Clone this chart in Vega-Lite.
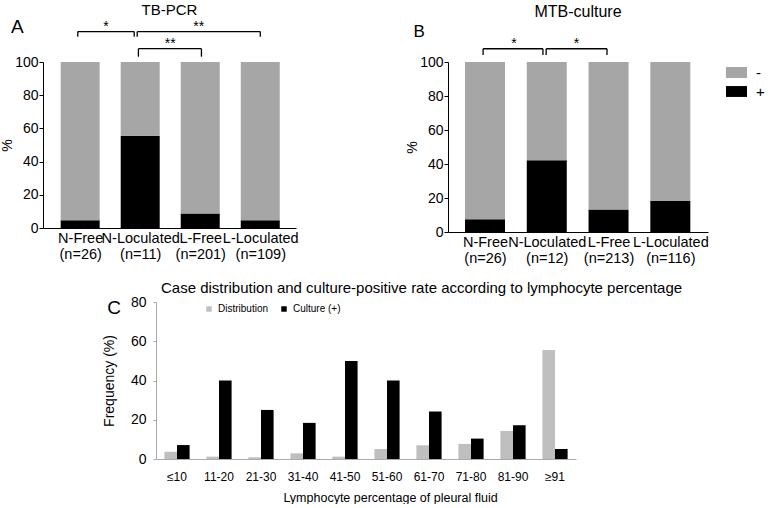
{
  "$schema": "https://vega.github.io/schema/vega-lite/v6.json",
  "background": "white",
  "padding": {"left": 0, "top": 2, "right": 0, "bottom": 0},
  "config": {
    "view": {"stroke": null},
    "font": "Liberation Sans",
    "axis": {"labelColor": "black", "titleColor": "black", "grid": false, "labelFont": "Liberation Sans", "titleFont": "Liberation Sans", "titleFontWeight": "normal", "labelOverlap": false},
    "title": {"color": "black", "font": "Liberation Sans", "fontWeight": "normal"},
    "legend": {"labelFont": "Liberation Sans", "labelColor": "black"},
    "text": {"font": "Liberation Sans", "color": "black"}
  },
  "datasets": {
    "pcr": [
      {"grp": "N-Free", "idx": 1, "res": "+", "pct": 4.6},
      {"grp": "N-Free", "idx": 1, "res": "-", "pct": 95.4},
      {"grp": "N-Loculated", "idx": 2, "res": "+", "pct": 55.5},
      {"grp": "N-Loculated", "idx": 2, "res": "-", "pct": 44.5},
      {"grp": "L-Free", "idx": 3, "res": "+", "pct": 8.7},
      {"grp": "L-Free", "idx": 3, "res": "-", "pct": 91.3},
      {"grp": "L-Loculated", "idx": 4, "res": "+", "pct": 4.6},
      {"grp": "L-Loculated", "idx": 4, "res": "-", "pct": 95.4}
    ],
    "culture": [
      {"grp": "N-Free", "idx": 1, "res": "+", "pct": 7.5},
      {"grp": "N-Free", "idx": 1, "res": "-", "pct": 92.5},
      {"grp": "N-Loculated", "idx": 2, "res": "+", "pct": 42.2},
      {"grp": "N-Loculated", "idx": 2, "res": "-", "pct": 57.8},
      {"grp": "L-Free", "idx": 3, "res": "+", "pct": 13.3},
      {"grp": "L-Free", "idx": 3, "res": "-", "pct": 86.7},
      {"grp": "L-Loculated", "idx": 4, "res": "+", "pct": 18.3},
      {"grp": "L-Loculated", "idx": 4, "res": "-", "pct": 81.7}
    ],
    "brA": [
      {"from": 0.96, "to": 1.9, "top": 118.3, "leg": 115.2, "mid": 1.43, "star": "*"},
      {"from": 1.95, "to": 4.0, "top": 118.3, "leg": 115.2, "mid": 2.975, "star": "**"},
      {"from": 1.97, "to": 3.02, "top": 108, "leg": 103.2, "mid": 2.5, "star": "**"}
    ],
    "brB": [
      {"from": 0.969, "to": 1.938, "top": 107.8, "leg": 104.1, "mid": 1.47, "star": "*"},
      {"from": 1.99, "to": 2.975, "top": 107.8, "leg": 104.1, "mid": 2.48, "star": "*"}
    ],
    "lymph": [
      {"grp": "≤10", "series": "Distribution", "val": 3.7},
      {"grp": "≤10", "series": "Culture (+)", "val": 7.1},
      {"grp": "11-20", "series": "Distribution", "val": 1.2},
      {"grp": "11-20", "series": "Culture (+)", "val": 40},
      {"grp": "21-30", "series": "Distribution", "val": 0.9},
      {"grp": "21-30", "series": "Culture (+)", "val": 25},
      {"grp": "31-40", "series": "Distribution", "val": 2.9},
      {"grp": "31-40", "series": "Culture (+)", "val": 18.4},
      {"grp": "41-50", "series": "Distribution", "val": 1.2},
      {"grp": "41-50", "series": "Culture (+)", "val": 50},
      {"grp": "51-60", "series": "Distribution", "val": 5.1},
      {"grp": "51-60", "series": "Culture (+)", "val": 40},
      {"grp": "61-70", "series": "Distribution", "val": 7.0},
      {"grp": "61-70", "series": "Culture (+)", "val": 24.2},
      {"grp": "71-80", "series": "Distribution", "val": 7.7},
      {"grp": "71-80", "series": "Culture (+)", "val": 10.4},
      {"grp": "81-90", "series": "Distribution", "val": 14.3},
      {"grp": "81-90", "series": "Culture (+)", "val": 17.2},
      {"grp": "≥91", "series": "Distribution", "val": 55.5},
      {"grp": "≥91", "series": "Culture (+)", "val": 5.1}
    ]
  },
  "spacing": 16,
  "resolve": {"scale": {"color": "independent"}, "legend": {"color": "independent"}},
  "vconcat": [
    {
      "spacing": 106,
      "resolve": {"scale": {"color": "independent"}, "legend": {"color": "independent"}},
      "hconcat": [
        {
          "width": 253,
          "height": 166,
          "title": {"text": "TB-PCR", "fontSize": 15, "offset": 0},
          "resolve": {"axis": {"x": "independent", "y": "independent"}},
          "layer": [
            {
              "data": {"name": "pcr"},
              "mark": {"type": "bar", "width": 39},
              "encoding": {
                "x": {"field": "idx", "type": "quantitative", "scale": {"domain": [0.464, 4.512], "nice": false, "zero": false},
                  "axis": {"values": [1, 2, 3, 4], "labelExpr": "[['N-Free','(n=26)'],['N-Loculated','(n=11)'],['L-Free','(n=201)'],['L-Loculated','(n=109)']][datum.value-1]", "ticks": false, "domainColor": "black", "labelFontSize": 14.5, "labelPadding": 3, "labelLineHeight": 16, "title": null, "labelFlush": false, "labelOverlap": false}},
                "y": {"field": "pct", "type": "quantitative", "stack": "zero", "scale": {"domain": [0, 100], "nice": false, "zero": false},
                  "axis": {"values": [0, 20, 40, 60, 80, 100], "tickColor": "black", "domainColor": "black", "tickSize": 4, "labelFontSize": 14, "labelPadding": 1, "labelOverlap": false, "labelFlush": false, "title": "%", "titleFontSize": 14, "titlePadding": 0}},
                "color": {"field": "res", "type": "nominal", "scale": {"domain": ["-", "+"], "range": ["#a6a6a6", "#000000"]}, "legend": null},
                "order": {"field": "res", "type": "nominal", "sort": "ascending"}
              }
            },
            {
              "data": {"name": "brA"},
              "mark": {"type": "rule", "color": "black", "strokeWidth": 1.3},
              "encoding": {
                "x": {"field": "from", "type": "quantitative", "scale": {"domain": [0.464, 4.512], "nice": false, "zero": false}, "axis": null},
                "x2": {"field": "to"},
                "y": {"field": "top", "type": "quantitative", "scale": {"domain": [0, 100], "nice": false, "zero": false}, "axis": null}
              }
            },
            {
              "data": {"name": "brA"},
              "mark": {"type": "rule", "color": "black", "strokeWidth": 1.3},
              "encoding": {
                "x": {"field": "from", "type": "quantitative", "scale": {"domain": [0.464, 4.512], "nice": false, "zero": false}, "axis": null},
                "y": {"field": "top", "type": "quantitative", "scale": {"domain": [0, 100], "nice": false, "zero": false}, "axis": null},
                "y2": {"field": "leg"}
              }
            },
            {
              "data": {"name": "brA"},
              "mark": {"type": "rule", "color": "black", "strokeWidth": 1.3},
              "encoding": {
                "x": {"field": "to", "type": "quantitative", "scale": {"domain": [0.464, 4.512], "nice": false, "zero": false}, "axis": null},
                "y": {"field": "top", "type": "quantitative", "scale": {"domain": [0, 100], "nice": false, "zero": false}, "axis": null},
                "y2": {"field": "leg"}
              }
            },
            {
              "data": {"name": "brA"},
              "mark": {"type": "text", "fontSize": 14, "baseline": "alphabetic", "align": "center", "dy": -1},
              "encoding": {
                "x": {"field": "mid", "type": "quantitative", "scale": {"domain": [0.464, 4.512], "nice": false, "zero": false}, "axis": null},
                "y": {"field": "top", "type": "quantitative", "scale": {"domain": [0, 100], "nice": false, "zero": false}, "axis": null},
                "text": {"field": "star"}
              }
            },
            {
              "data": {"values": [{}]},
              "mark": {"type": "text", "fontSize": 19, "baseline": "middle", "align": "center"},
              "encoding": {
                "x": {"datum": -0.048, "type": "quantitative", "scale": {"domain": [0.464, 4.512], "nice": false, "zero": false}, "axis": null},
                "y": {"datum": 121.3, "type": "quantitative", "scale": {"domain": [0, 100], "nice": false, "zero": false}, "axis": null},
                "text": {"value": "A"}
              }
            }
          ]
        },
        {
          "width": 260,
          "height": 170,
          "title": {"text": "MTB-culture", "fontSize": 16, "offset": 3},
          "resolve": {"axis": {"x": "independent", "y": "independent"}},
          "layer": [
            {
              "data": {"name": "culture"},
              "mark": {"type": "bar", "width": 40},
              "encoding": {
                "x": {"field": "idx", "type": "quantitative", "scale": {"domain": [0.482, 4.529], "nice": false, "zero": false},
                  "axis": {"values": [1, 2, 3, 4], "labelExpr": "[['N-Free','(n=26)'],['N-Loculated','(n=12)'],['L-Free','(n=213)'],['L-Loculated','(n=116)']][datum.value-1]", "ticks": false, "domainColor": "black", "labelFontSize": 14.5, "labelPadding": 3, "labelLineHeight": 16, "title": null, "labelFlush": false, "labelOverlap": false}},
                "y": {"field": "pct", "type": "quantitative", "stack": "zero", "scale": {"domain": [0, 100], "nice": false, "zero": false},
                  "axis": {"values": [0, 20, 40, 60, 80, 100], "tickColor": "black", "domainColor": "black", "tickSize": 4, "labelFontSize": 14, "labelPadding": 1, "labelOverlap": false, "labelFlush": false, "title": "%", "titleFontSize": 14, "titlePadding": 0}},
                "color": {"field": "res", "type": "nominal", "scale": {"domain": ["-", "+"], "range": ["#a6a6a6", "#000000"]},
                  "legend": {"orient": "right", "offset": 18, "title": null, "padding": 0, "symbolType": "M-1,-0.52L1,-0.52L1,0.52L-1,0.52Z", "symbolSize": 441, "symbolStrokeWidth": 0, "labelFontSize": 15, "labelOffset": 9, "rowPadding": 0}},
                "order": {"field": "res", "type": "nominal", "sort": "ascending"}
              }
            },
            {
              "data": {"name": "brB"},
              "mark": {"type": "rule", "color": "black", "strokeWidth": 1.3},
              "encoding": {
                "x": {"field": "from", "type": "quantitative", "scale": {"domain": [0.482, 4.529], "nice": false, "zero": false}, "axis": null},
                "x2": {"field": "to"},
                "y": {"field": "top", "type": "quantitative", "scale": {"domain": [0, 100], "nice": false, "zero": false}, "axis": null}
              }
            },
            {
              "data": {"name": "brB"},
              "mark": {"type": "rule", "color": "black", "strokeWidth": 1.3},
              "encoding": {
                "x": {"field": "from", "type": "quantitative", "scale": {"domain": [0.482, 4.529], "nice": false, "zero": false}, "axis": null},
                "y": {"field": "top", "type": "quantitative", "scale": {"domain": [0, 100], "nice": false, "zero": false}, "axis": null},
                "y2": {"field": "leg"}
              }
            },
            {
              "data": {"name": "brB"},
              "mark": {"type": "rule", "color": "black", "strokeWidth": 1.3},
              "encoding": {
                "x": {"field": "to", "type": "quantitative", "scale": {"domain": [0.482, 4.529], "nice": false, "zero": false}, "axis": null},
                "y": {"field": "top", "type": "quantitative", "scale": {"domain": [0, 100], "nice": false, "zero": false}, "axis": null},
                "y2": {"field": "leg"}
              }
            },
            {
              "data": {"name": "brB"},
              "mark": {"type": "text", "fontSize": 14, "baseline": "alphabetic", "align": "center", "dy": -1},
              "encoding": {
                "x": {"field": "mid", "type": "quantitative", "scale": {"domain": [0.482, 4.529], "nice": false, "zero": false}, "axis": null},
                "y": {"field": "top", "type": "quantitative", "scale": {"domain": [0, 100], "nice": false, "zero": false}, "axis": null},
                "text": {"field": "star"}
              }
            },
            {
              "data": {"values": [{}]},
              "mark": {"type": "text", "fontSize": 17, "baseline": "middle", "align": "center"},
              "encoding": {
                "x": {"datum": -0.065, "type": "quantitative", "scale": {"domain": [0.482, 4.529], "nice": false, "zero": false}, "axis": null},
                "y": {"datum": 117.4, "type": "quantitative", "scale": {"domain": [0, 100], "nice": false, "zero": false}, "axis": null},
                "text": {"value": "B"}
              }
            }
          ]
        }
      ]
    },
    {
      "spacing": 9,
      "resolve": {"scale": {"color": "independent"}, "legend": {"color": "independent"}},
      "hconcat": [
        {
          "width": 50,
          "height": 20,
          "data": {"values": [{}]},
          "mark": {"type": "text", "text": ""},
          "encoding": {}
        },
        {
          "width": 420,
          "height": 157,
          "title": {"text": "Case distribution and culture-positive rate according to lymphocyte percentage", "fontSize": 15, "anchor": "start", "frame": "group", "dx": 5, "offset": -1},
          "resolve": {"axis": {"x": "independent", "y": "independent"}},
          "layer": [
            {
              "data": {"name": "lymph"},
              "mark": {"type": "bar"},
              "encoding": {
                "x": {"field": "grp", "type": "nominal", "sort": ["≤10", "11-20", "21-30", "31-40", "41-50", "51-60", "61-70", "71-80", "81-90", "≥91"], "scale": {"paddingInner": 0.4, "paddingOuter": 0.2},
                  "axis": {"ticks": false, "domainColor": "#aaaaaa", "labelFontSize": 12, "labelPadding": 12, "labelAngle": 0, "title": "Lymphocyte percentage of pleural fluid", "titleFontSize": 12.5, "titlePadding": 9, "titleX": 234}},
                "xOffset": {"field": "series", "type": "nominal", "sort": ["Distribution", "Culture (+)"]},
                "y": {"field": "val", "type": "quantitative", "scale": {"domain": [0, 80], "nice": false},
                  "axis": {"values": [0, 20, 40, 60, 80], "domainColor": "#aaaaaa", "tickColor": "#aaaaaa", "tickSize": 3, "labelFontSize": 14, "labelPadding": 7, "labelOverlap": false, "labelFlush": false, "title": "Frequency (%)", "titleFontSize": 14, "titlePadding": 14}},
                "color": {"field": "series", "type": "nominal", "sort": ["Distribution", "Culture (+)"], "scale": {"domain": ["Distribution", "Culture (+)"], "range": ["#bfbfbf", "#000000"]},
                  "legend": {"orient": "none", "legendX": 48, "legendY": 2, "direction": "horizontal", "title": null, "symbolType": "square", "symbolSize": 30, "symbolStrokeWidth": 0, "labelFontSize": 10, "labelOffset": 4, "columnPadding": 10}}
              }
            },
            {
              "data": {"values": [{}]},
              "mark": {"type": "text", "fontSize": 19, "baseline": "middle", "align": "center", "dx": -63},
              "encoding": {
                "x": {"datum": "≤10", "type": "nominal", "sort": ["≤10", "11-20", "21-30", "31-40", "41-50", "51-60", "61-70", "71-80", "81-90", "≥91"], "axis": null},
                "y": {"datum": 77, "type": "quantitative", "scale": {"domain": [0, 80], "nice": false}, "axis": null},
                "text": {"value": "C"}
              }
            }
          ]
        }
      ]
    }
  ]
}
